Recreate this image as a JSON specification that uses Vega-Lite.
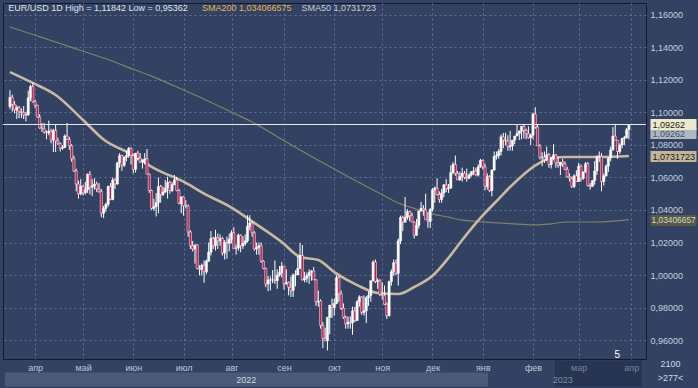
{
"$schema": "https://vega.github.io/schema/vega-lite/v6.json",
"width": 643, "height": 356,
"autosize": "none",
"padding": {"left": 3, "top": 3, "right": 52, "bottom": 29},
"background": "#334263",
"config": {"font": "Liberation Sans", "view": {"fill": "#334263", "stroke": "#121a2b", "strokeWidth": 1}},
"data": {"values": [
{"date":"2022-03-17","open":1.1037,"high":1.1137,"low":1.1020,"close":1.1093,"sma50":1.1249,"sma200":1.1526},
{"date":"2022-03-18","open":1.1093,"high":1.1110,"low":1.1005,"close":1.1050},
{"date":"2022-03-21","open":1.1050,"high":1.1070,"low":1.0995,"close":1.1015},
{"date":"2022-03-22","open":1.1015,"high":1.1045,"low":1.0960,"close":1.1030},
{"date":"2022-03-23","open":1.1030,"high":1.1040,"low":1.0965,"close":1.1005},
{"date":"2022-03-24","open":1.1005,"high":1.1025,"low":1.0965,"close":1.1000},
{"date":"2022-03-25","open":1.1000,"high":1.1040,"low":1.0960,"close":1.0985},
{"date":"2022-03-28","open":1.0985,"high":1.1005,"low":1.0945,"close":1.0985},
{"date":"2022-03-29","open":1.0985,"high":1.1135,"low":1.0980,"close":1.1090},
{"date":"2022-03-30","open":1.1090,"high":1.1170,"low":1.1070,"close":1.1160},
{"date":"2022-03-31","open":1.1160,"high":1.1184,"low":1.1060,"close":1.1067,"sma50":1.1182,"sma200":1.1480},
{"date":"2022-04-01","open":1.1067,"high":1.1077,"low":1.1028,"close":1.1045},
{"date":"2022-04-04","open":1.1045,"high":1.1047,"low":1.0968,"close":1.0972},
{"date":"2022-04-05","open":1.0972,"high":1.0990,"low":1.0900,"close":1.0905},
{"date":"2022-04-06","open":1.0905,"high":1.0935,"low":1.0880,"close":1.0900},
{"date":"2022-04-07","open":1.0900,"high":1.0935,"low":1.0870,"close":1.0880},
{"date":"2022-04-08","open":1.0880,"high":1.0890,"low":1.0835,"close":1.0875},
{"date":"2022-04-11","open":1.0875,"high":1.0950,"low":1.0860,"close":1.0885},
{"date":"2022-04-12","open":1.0885,"high":1.0900,"low":1.0810,"close":1.0830},
{"date":"2022-04-13","open":1.0830,"high":1.0900,"low":1.0757,"close":1.0890},
{"date":"2022-04-14","open":1.0890,"high":1.0925,"low":1.0757,"close":1.0825,"sma50":1.1108,"sma200":1.1434},
{"date":"2022-04-15","open":1.0825,"high":1.0845,"low":1.0800,"close":1.0810},
{"date":"2022-04-18","open":1.0810,"high":1.0815,"low":1.0760,"close":1.0780},
{"date":"2022-04-19","open":1.0780,"high":1.0800,"low":1.0770,"close":1.0785},
{"date":"2022-04-20","open":1.0785,"high":1.0865,"low":1.0780,"close":1.0855},
{"date":"2022-04-21","open":1.0855,"high":1.0936,"low":1.0830,"close":1.0835},
{"date":"2022-04-22","open":1.0835,"high":1.0850,"low":1.0770,"close":1.0795},
{"date":"2022-04-25","open":1.0795,"high":1.0805,"low":1.0697,"close":1.0715},
{"date":"2022-04-26","open":1.0715,"high":1.0735,"low":1.0635,"close":1.0640},
{"date":"2022-04-27","open":1.0640,"high":1.0655,"low":1.0515,"close":1.0560},
{"date":"2022-04-28","open":1.0560,"high":1.0580,"low":1.0470,"close":1.0500},
{"date":"2022-04-29","open":1.0500,"high":1.0590,"low":1.0490,"close":1.0545},
{"date":"2022-05-02","open":1.0545,"high":1.0555,"low":1.0490,"close":1.0505,"sma50":1.0954,"sma200":1.1377},
{"date":"2022-05-03","open":1.0505,"high":1.0575,"low":1.0495,"close":1.0525},
{"date":"2022-05-04","open":1.0525,"high":1.0625,"low":1.0505,"close":1.0620},
{"date":"2022-05-05","open":1.0620,"high":1.0640,"low":1.0495,"close":1.0540},
{"date":"2022-05-06","open":1.0540,"high":1.0590,"low":1.0485,"close":1.0550},
{"date":"2022-05-09","open":1.0550,"high":1.0595,"low":1.0525,"close":1.0560},
{"date":"2022-05-10","open":1.0560,"high":1.0575,"low":1.0510,"close":1.0530},
{"date":"2022-05-11","open":1.0530,"high":1.0565,"low":1.0505,"close":1.0515},
{"date":"2022-05-12","open":1.0515,"high":1.0530,"low":1.0355,"close":1.0380},
{"date":"2022-05-13","open":1.0380,"high":1.0425,"low":1.0350,"close":1.0410,"sma50":1.0834,"sma200":1.1335},
{"date":"2022-05-16","open":1.0410,"high":1.0445,"low":1.0390,"close":1.0435},
{"date":"2022-05-17","open":1.0435,"high":1.0550,"low":1.0420,"close":1.0545},
{"date":"2022-05-18","open":1.0545,"high":1.0565,"low":1.0460,"close":1.0465},
{"date":"2022-05-19","open":1.0465,"high":1.0600,"low":1.0460,"close":1.0585},
{"date":"2022-05-20","open":1.0585,"high":1.0595,"low":1.0530,"close":1.0560},
{"date":"2022-05-23","open":1.0560,"high":1.0695,"low":1.0555,"close":1.0690},
{"date":"2022-05-24","open":1.0690,"high":1.0750,"low":1.0660,"close":1.0735},
{"date":"2022-05-25","open":1.0735,"high":1.0740,"low":1.0640,"close":1.0675},
{"date":"2022-05-26","open":1.0675,"high":1.0730,"low":1.0665,"close":1.0725},
{"date":"2022-05-27","open":1.0725,"high":1.0765,"low":1.0700,"close":1.0735},
{"date":"2022-05-30","open":1.0735,"high":1.0787,"low":1.0720,"close":1.0780},
{"date":"2022-05-31","open":1.0780,"high":1.0785,"low":1.0680,"close":1.0735},
{"date":"2022-06-01","open":1.0735,"high":1.0740,"low":1.0625,"close":1.0650,"sma50":1.0738,"sma200":1.1266},
{"date":"2022-06-02","open":1.0650,"high":1.0750,"low":1.0630,"close":1.0750},
{"date":"2022-06-03","open":1.0750,"high":1.0765,"low":1.0705,"close":1.0720},
{"date":"2022-06-06","open":1.0720,"high":1.0750,"low":1.0690,"close":1.0695},
{"date":"2022-06-07","open":1.0695,"high":1.0710,"low":1.0655,"close":1.0705},
{"date":"2022-06-08","open":1.0705,"high":1.0750,"low":1.0680,"close":1.0715},
{"date":"2022-06-09","open":1.0715,"high":1.0775,"low":1.0625,"close":1.0620},
{"date":"2022-06-10","open":1.0620,"high":1.0625,"low":1.0505,"close":1.0520},
{"date":"2022-06-13","open":1.0520,"high":1.0525,"low":1.0400,"close":1.0410},
{"date":"2022-06-14","open":1.0410,"high":1.0470,"low":1.0395,"close":1.0420,"sma50":1.0658,"sma200":1.1218},
{"date":"2022-06-15","open":1.0420,"high":1.0505,"low":1.0360,"close":1.0445},
{"date":"2022-06-16","open":1.0445,"high":1.0600,"low":1.0380,"close":1.0545},
{"date":"2022-06-17","open":1.0545,"high":1.0555,"low":1.0445,"close":1.0495},
{"date":"2022-06-20","open":1.0495,"high":1.0545,"low":1.0485,"close":1.0510},
{"date":"2022-06-21","open":1.0510,"high":1.0585,"low":1.0505,"close":1.0535},
{"date":"2022-06-22","open":1.0535,"high":1.0605,"low":1.0470,"close":1.0570},
{"date":"2022-06-23","open":1.0570,"high":1.0580,"low":1.0500,"close":1.0520},
{"date":"2022-06-24","open":1.0520,"high":1.0570,"low":1.0510,"close":1.0555},
{"date":"2022-06-27","open":1.0555,"high":1.0615,"low":1.0555,"close":1.0585},
{"date":"2022-06-28","open":1.0585,"high":1.0605,"low":1.0515,"close":1.0520},
{"date":"2022-06-29","open":1.0520,"high":1.0530,"low":1.0435,"close":1.0440},
{"date":"2022-06-30","open":1.0440,"high":1.0485,"low":1.0380,"close":1.0480},
{"date":"2022-07-01","open":1.0480,"high":1.0485,"low":1.0365,"close":1.0425,"sma50":1.0574,"sma200":1.1138},
{"date":"2022-07-04","open":1.0425,"high":1.0460,"low":1.0410,"close":1.0425},
{"date":"2022-07-05","open":1.0425,"high":1.0435,"low":1.0235,"close":1.0265},
{"date":"2022-07-06","open":1.0265,"high":1.0275,"low":1.0160,"close":1.0180},
{"date":"2022-07-07","open":1.0180,"high":1.0210,"low":1.0145,"close":1.0160},
{"date":"2022-07-08","open":1.0160,"high":1.0185,"low":1.0070,"close":1.0185},
{"date":"2022-07-11","open":1.0185,"high":1.0190,"low":1.0035,"close":1.0040},
{"date":"2022-07-12","open":1.0040,"high":1.0060,"low":0.9998,"close":1.0035},
{"date":"2022-07-13","open":1.0035,"high":1.0070,"low":0.9998,"close":1.0060},
{"date":"2022-07-14","open":1.0060,"high":1.0090,"low":0.9952,"close":1.0020,"sma50":1.0501,"sma200":1.1082},
{"date":"2022-07-15","open":1.0020,"high":1.0095,"low":1.0005,"close":1.0085},
{"date":"2022-07-18","open":1.0085,"high":1.0200,"low":1.0080,"close":1.0140},
{"date":"2022-07-19","open":1.0140,"high":1.0270,"low":1.0120,"close":1.0225},
{"date":"2022-07-20","open":1.0225,"high":1.0235,"low":1.0160,"close":1.0180},
{"date":"2022-07-21","open":1.0180,"high":1.0278,"low":1.0150,"close":1.0230},
{"date":"2022-07-22","open":1.0230,"high":1.0255,"low":1.0160,"close":1.0210},
{"date":"2022-07-25","open":1.0210,"high":1.0250,"low":1.0180,"close":1.0225},
{"date":"2022-07-26","open":1.0225,"high":1.0235,"low":1.0120,"close":1.0135},
{"date":"2022-07-27","open":1.0135,"high":1.0215,"low":1.0095,"close":1.0200},
{"date":"2022-07-28","open":1.0200,"high":1.0235,"low":1.0100,"close":1.0195},
{"date":"2022-07-29","open":1.0195,"high":1.0255,"low":1.0145,"close":1.0220},
{"date":"2022-08-01","open":1.0220,"high":1.0275,"low":1.0195,"close":1.0260,"sma50":1.0415,"sma200":1.1002},
{"date":"2022-08-02","open":1.0260,"high":1.0295,"low":1.0160,"close":1.0165},
{"date":"2022-08-03","open":1.0165,"high":1.0185,"low":1.0125,"close":1.0165},
{"date":"2022-08-04","open":1.0165,"high":1.0255,"low":1.0150,"close":1.0245},
{"date":"2022-08-05","open":1.0245,"high":1.0250,"low":1.0140,"close":1.0180},
{"date":"2022-08-08","open":1.0180,"high":1.0240,"low":1.0160,"close":1.0195},
{"date":"2022-08-09","open":1.0195,"high":1.0250,"low":1.0180,"close":1.0210},
{"date":"2022-08-10","open":1.0210,"high":1.0368,"low":1.0200,"close":1.0300},
{"date":"2022-08-11","open":1.0300,"high":1.0368,"low":1.0275,"close":1.0320},
{"date":"2022-08-12","open":1.0320,"high":1.0330,"low":1.0235,"close":1.0260,"sma50":1.0330,"sma200":1.0942},
{"date":"2022-08-15","open":1.0260,"high":1.0270,"low":1.0150,"close":1.0160},
{"date":"2022-08-16","open":1.0160,"high":1.0200,"low":1.0125,"close":1.0170},
{"date":"2022-08-17","open":1.0170,"high":1.0200,"low":1.0125,"close":1.0180},
{"date":"2022-08-18","open":1.0180,"high":1.0200,"low":1.0075,"close":1.0085},
{"date":"2022-08-19","open":1.0085,"high":1.0090,"low":1.0035,"close":1.0040},
{"date":"2022-08-22","open":1.0040,"high":1.0045,"low":0.9925,"close":0.9945},
{"date":"2022-08-23","open":0.9945,"high":0.9995,"low":0.9900,"close":0.9970},
{"date":"2022-08-24","open":0.9970,"high":0.9990,"low":0.9905,"close":0.9970},
{"date":"2022-08-25","open":0.9970,"high":1.0030,"low":0.9950,"close":0.9970},
{"date":"2022-08-26","open":0.9970,"high":1.0090,"low":0.9945,"close":0.9965},
{"date":"2022-08-29","open":0.9965,"high":1.0035,"low":0.9915,"close":1.0000},
{"date":"2022-08-30","open":1.0000,"high":1.0055,"low":0.9990,"close":1.0015},
{"date":"2022-08-31","open":1.0015,"high":1.0080,"low":0.9985,"close":1.0055,"sma50":1.0203,"sma200":1.0835},
{"date":"2022-09-01","open":1.0055,"high":1.0055,"low":0.9910,"close":0.9945},
{"date":"2022-09-02","open":0.9945,"high":1.0035,"low":0.9940,"close":0.9955},
{"date":"2022-09-05","open":0.9955,"high":0.9960,"low":0.9875,"close":0.9925},
{"date":"2022-09-06","open":0.9925,"high":0.9990,"low":0.9865,"close":0.9905},
{"date":"2022-09-07","open":0.9905,"high":1.0010,"low":0.9865,"close":1.0000},
{"date":"2022-09-08","open":1.0000,"high":1.0030,"low":0.9930,"close":1.0000},
{"date":"2022-09-09","open":1.0000,"high":1.0115,"low":1.0000,"close":1.0040},
{"date":"2022-09-12","open":1.0040,"high":1.0198,"low":1.0040,"close":1.0120,"sma50":1.0111,"sma200":1.0769},
{"date":"2022-09-13","open":1.0120,"high":1.0185,"low":0.9966,"close":0.9970},
{"date":"2022-09-14","open":0.9970,"high":1.0020,"low":0.9955,"close":0.9980},
{"date":"2022-09-15","open":0.9980,"high":1.0015,"low":0.9955,"close":0.9995},
{"date":"2022-09-16","open":0.9995,"high":1.0035,"low":0.9945,"close":1.0015},
{"date":"2022-09-19","open":1.0015,"high":1.0030,"low":0.9965,"close":1.0025},
{"date":"2022-09-20","open":1.0025,"high":1.0050,"low":0.9970,"close":0.9970},
{"date":"2022-09-21","open":0.9970,"high":0.9975,"low":0.9810,"close":0.9835},
{"date":"2022-09-22","open":0.9835,"high":0.9905,"low":0.9805,"close":0.9840,"sma50":1.0092,"sma200":1.0706},
{"date":"2022-09-23","open":0.9840,"high":0.9850,"low":0.9670,"close":0.9690},
{"date":"2022-09-26","open":0.9690,"high":0.9710,"low":0.9550,"close":0.9610},
{"date":"2022-09-27","open":0.9610,"high":0.9675,"low":0.9595,"close":0.9595},
{"date":"2022-09-28","open":0.9595,"high":0.9740,"low":0.9536,"close":0.9740},
{"date":"2022-09-29","open":0.9740,"high":0.9815,"low":0.9635,"close":0.9815},
{"date":"2022-09-30","open":0.9815,"high":0.9855,"low":0.9735,"close":0.9800},
{"date":"2022-10-03","open":0.9800,"high":0.9855,"low":0.9750,"close":0.9825,"sma50":1.0018,"sma200":1.0652},
{"date":"2022-10-04","open":0.9825,"high":0.9999,"low":0.9820,"close":0.9985},
{"date":"2022-10-05","open":0.9985,"high":0.9995,"low":0.9835,"close":0.9885},
{"date":"2022-10-06","open":0.9885,"high":0.9905,"low":0.9785,"close":0.9795},
{"date":"2022-10-07","open":0.9795,"high":0.9825,"low":0.9730,"close":0.9740},
{"date":"2022-10-10","open":0.9740,"high":0.9750,"low":0.9670,"close":0.9700},
{"date":"2022-10-11","open":0.9700,"high":0.9745,"low":0.9670,"close":0.9710},
{"date":"2022-10-12","open":0.9710,"high":0.9745,"low":0.9670,"close":0.9705},
{"date":"2022-10-13","open":0.9705,"high":0.9805,"low":0.9632,"close":0.9780},
{"date":"2022-10-14","open":0.9780,"high":0.9805,"low":0.9710,"close":0.9720},
{"date":"2022-10-17","open":0.9720,"high":0.9845,"low":0.9720,"close":0.9835,"sma50":0.9938,"sma200":1.0575},
{"date":"2022-10-18","open":0.9835,"high":0.9875,"low":0.9805,"close":0.9865},
{"date":"2022-10-19","open":0.9865,"high":0.9870,"low":0.9755,"close":0.9770},
{"date":"2022-10-20","open":0.9770,"high":0.9875,"low":0.9750,"close":0.9780},
{"date":"2022-10-21","open":0.9780,"high":0.9870,"low":0.9705,"close":0.9860},
{"date":"2022-10-24","open":0.9860,"high":0.9900,"low":0.9810,"close":0.9875},
{"date":"2022-10-25","open":0.9875,"high":0.9965,"low":0.9835,"close":0.9965},
{"date":"2022-10-26","open":0.9965,"high":1.0090,"low":0.9960,"close":1.0080},
{"date":"2022-10-27","open":1.0080,"high":1.0095,"low":0.9950,"close":0.9960},
{"date":"2022-10-28","open":0.9960,"high":0.9980,"low":0.9915,"close":0.9965,"sma50":0.9889,"sma200":1.0509},
{"date":"2022-10-31","open":0.9965,"high":0.9975,"low":0.9870,"close":0.9880},
{"date":"2022-11-01","open":0.9880,"high":0.9955,"low":0.9850,"close":0.9875},
{"date":"2022-11-02","open":0.9875,"high":0.9935,"low":0.9815,"close":0.9820},
{"date":"2022-11-03","open":0.9820,"high":0.9830,"low":0.9730,"close":0.9750},
{"date":"2022-11-04","open":0.9750,"high":0.9965,"low":0.9745,"close":0.9960},
{"date":"2022-11-07","open":0.9960,"high":1.0035,"low":0.9935,"close":1.0020},
{"date":"2022-11-08","open":1.0020,"high":1.0095,"low":0.9995,"close":1.0075},
{"date":"2022-11-09","open":1.0075,"high":1.0095,"low":1.0000,"close":1.0010},
{"date":"2022-11-10","open":1.0010,"high":1.0225,"low":0.9935,"close":1.0210,"sma50":0.9883,"sma200":1.0443},
{"date":"2022-11-11","open":1.0210,"high":1.0365,"low":1.0190,"close":1.0355},
{"date":"2022-11-14","open":1.0355,"high":1.0365,"low":1.0270,"close":1.0325},
{"date":"2022-11-15","open":1.0325,"high":1.0480,"low":1.0325,"close":1.0355},
{"date":"2022-11-16","open":1.0355,"high":1.0405,"low":1.0340,"close":1.0390},
{"date":"2022-11-17","open":1.0390,"high":1.0395,"low":1.0330,"close":1.0365},
{"date":"2022-11-18","open":1.0365,"high":1.0385,"low":1.0325,"close":1.0325},
{"date":"2022-11-21","open":1.0325,"high":1.0330,"low":1.0225,"close":1.0245,"sma50":0.9926,"sma200":1.0410},
{"date":"2022-11-22","open":1.0245,"high":1.0345,"low":1.0240,"close":1.0305},
{"date":"2022-11-23","open":1.0305,"high":1.0395,"low":1.0285,"close":1.0395},
{"date":"2022-11-24","open":1.0395,"high":1.0450,"low":1.0390,"close":1.0410},
{"date":"2022-11-25","open":1.0410,"high":1.0430,"low":1.0365,"close":1.0400},
{"date":"2022-11-28","open":1.0400,"high":1.0500,"low":1.0345,"close":1.0340},
{"date":"2022-11-29","open":1.0340,"high":1.0385,"low":1.0290,"close":1.0330},
{"date":"2022-11-30","open":1.0330,"high":1.0410,"low":1.0290,"close":1.0405},
{"date":"2022-12-01","open":1.0405,"high":1.0535,"low":1.0390,"close":1.0525,"sma50":0.9995,"sma200":1.0376},
{"date":"2022-12-02","open":1.0525,"high":1.0545,"low":1.0445,"close":1.0535},
{"date":"2022-12-05","open":1.0535,"high":1.0595,"low":1.0490,"close":1.0495},
{"date":"2022-12-06","open":1.0495,"high":1.0515,"low":1.0445,"close":1.0465},
{"date":"2022-12-07","open":1.0465,"high":1.0530,"low":1.0445,"close":1.0505},
{"date":"2022-12-08","open":1.0505,"high":1.0560,"low":1.0480,"close":1.0555},
{"date":"2022-12-09","open":1.0555,"high":1.0590,"low":1.0510,"close":1.0530},
{"date":"2022-12-12","open":1.0530,"high":1.0560,"low":1.0505,"close":1.0535,"sma50":1.0105,"sma200":1.0356},
{"date":"2022-12-13","open":1.0535,"high":1.0675,"low":1.0530,"close":1.0630},
{"date":"2022-12-14","open":1.0630,"high":1.0695,"low":1.0620,"close":1.0680},
{"date":"2022-12-15","open":1.0680,"high":1.0735,"low":1.0610,"close":1.0625},
{"date":"2022-12-16","open":1.0625,"high":1.0640,"low":1.0585,"close":1.0585},
{"date":"2022-12-19","open":1.0585,"high":1.0635,"low":1.0580,"close":1.0605},
{"date":"2022-12-20","open":1.0605,"high":1.0660,"low":1.0575,"close":1.0625,"sma50":1.0215,"sma200":1.0338},
{"date":"2022-12-21","open":1.0625,"high":1.0640,"low":1.0590,"close":1.0600},
{"date":"2022-12-22","open":1.0600,"high":1.0655,"low":1.0575,"close":1.0595},
{"date":"2022-12-23","open":1.0595,"high":1.0625,"low":1.0590,"close":1.0615},
{"date":"2022-12-26","open":1.0615,"high":1.0640,"low":1.0605,"close":1.0635},
{"date":"2022-12-27","open":1.0635,"high":1.0665,"low":1.0615,"close":1.0640},
{"date":"2022-12-28","open":1.0640,"high":1.0660,"low":1.0610,"close":1.0615},
{"date":"2022-12-29","open":1.0615,"high":1.0680,"low":1.0605,"close":1.0665},
{"date":"2022-12-30","open":1.0665,"high":1.0715,"low":1.0660,"close":1.0705,"sma50":1.0351,"sma200":1.0329},
{"date":"2023-01-02","open":1.0705,"high":1.0710,"low":1.0650,"close":1.0665},
{"date":"2023-01-03","open":1.0665,"high":1.0685,"low":1.0520,"close":1.0545},
{"date":"2023-01-04","open":1.0545,"high":1.0625,"low":1.0525,"close":1.0605},
{"date":"2023-01-05","open":1.0605,"high":1.0615,"low":1.0510,"close":1.0520},
{"date":"2023-01-06","open":1.0520,"high":1.0650,"low":1.0484,"close":1.0645},
{"date":"2023-01-09","open":1.0645,"high":1.0760,"low":1.0645,"close":1.0730},
{"date":"2023-01-10","open":1.0730,"high":1.0760,"low":1.0710,"close":1.0735},
{"date":"2023-01-11","open":1.0735,"high":1.0775,"low":1.0715,"close":1.0760,"sma50":1.0469,"sma200":1.0320},
{"date":"2023-01-12","open":1.0760,"high":1.0865,"low":1.0735,"close":1.0850},
{"date":"2023-01-13","open":1.0850,"high":1.0875,"low":1.0780,"close":1.0830},
{"date":"2023-01-16","open":1.0830,"high":1.0875,"low":1.0800,"close":1.0825},
{"date":"2023-01-17","open":1.0825,"high":1.0860,"low":1.0765,"close":1.0790},
{"date":"2023-01-18","open":1.0790,"high":1.0887,"low":1.0765,"close":1.0795,"sma50":1.0542,"sma200":1.0316},
{"date":"2023-01-19","open":1.0795,"high":1.0830,"low":1.0765,"close":1.0830},
{"date":"2023-01-20","open":1.0830,"high":1.0855,"low":1.0805,"close":1.0855},
{"date":"2023-01-23","open":1.0855,"high":1.0925,"low":1.0855,"close":1.0870},
{"date":"2023-01-24","open":1.0870,"high":1.0890,"low":1.0830,"close":1.0885},
{"date":"2023-01-25","open":1.0885,"high":1.0915,"low":1.0835,"close":1.0915},
{"date":"2023-01-26","open":1.0915,"high":1.0930,"low":1.0840,"close":1.0890},
{"date":"2023-01-27","open":1.0890,"high":1.0900,"low":1.0835,"close":1.0870},
{"date":"2023-01-30","open":1.0870,"high":1.0915,"low":1.0840,"close":1.0845},
{"date":"2023-01-31","open":1.0845,"high":1.0870,"low":1.0800,"close":1.0860},
{"date":"2023-02-01","open":1.0860,"high":1.1000,"low":1.0835,"close":1.0990},
{"date":"2023-02-02","open":1.0990,"high":1.1033,"low":1.0900,"close":1.0910},
{"date":"2023-02-03","open":1.0910,"high":1.0925,"low":1.0795,"close":1.0795,"sma50":1.0683,"sma200":1.0308},
{"date":"2023-02-06","open":1.0795,"high":1.0805,"low":1.0710,"close":1.0725},
{"date":"2023-02-07","open":1.0725,"high":1.0755,"low":1.0670,"close":1.0725},
{"date":"2023-02-08","open":1.0725,"high":1.0760,"low":1.0690,"close":1.0710},
{"date":"2023-02-09","open":1.0710,"high":1.0790,"low":1.0700,"close":1.0740},
{"date":"2023-02-10","open":1.0740,"high":1.0750,"low":1.0660,"close":1.0680},
{"date":"2023-02-13","open":1.0680,"high":1.0725,"low":1.0655,"close":1.0720,"sma50":1.0720,"sma200":1.0315},
{"date":"2023-02-14","open":1.0720,"high":1.0805,"low":1.0705,"close":1.0740},
{"date":"2023-02-15","open":1.0740,"high":1.0745,"low":1.0660,"close":1.0690},
{"date":"2023-02-16","open":1.0690,"high":1.0725,"low":1.0660,"close":1.0675},
{"date":"2023-02-17","open":1.0675,"high":1.0695,"low":1.0615,"close":1.0695},
{"date":"2023-02-20","open":1.0695,"high":1.0715,"low":1.0665,"close":1.0685},
{"date":"2023-02-21","open":1.0685,"high":1.0700,"low":1.0645,"close":1.0650},
{"date":"2023-02-22","open":1.0650,"high":1.0665,"low":1.0600,"close":1.0605,"sma50":1.0726,"sma200":1.0326},
{"date":"2023-02-23","open":1.0605,"high":1.0625,"low":1.0575,"close":1.0595},
{"date":"2023-02-24","open":1.0595,"high":1.0605,"low":1.0535,"close":1.0545},
{"date":"2023-02-27","open":1.0545,"high":1.0620,"low":1.0535,"close":1.0610},
{"date":"2023-02-28","open":1.0610,"high":1.0645,"low":1.0575,"close":1.0575},
{"date":"2023-03-01","open":1.0575,"high":1.0690,"low":1.0575,"close":1.0670},
{"date":"2023-03-02","open":1.0670,"high":1.0680,"low":1.0575,"close":1.0595},
{"date":"2023-03-03","open":1.0595,"high":1.0635,"low":1.0585,"close":1.0635},
{"date":"2023-03-06","open":1.0635,"high":1.0695,"low":1.0630,"close":1.0685},
{"date":"2023-03-07","open":1.0685,"high":1.0695,"low":1.0545,"close":1.0550},
{"date":"2023-03-08","open":1.0550,"high":1.0565,"low":1.0525,"close":1.0545},
{"date":"2023-03-09","open":1.0545,"high":1.0585,"low":1.0545,"close":1.0580},
{"date":"2023-03-10","open":1.0580,"high":1.0700,"low":1.0555,"close":1.0640},
{"date":"2023-03-13","open":1.0640,"high":1.0735,"low":1.0615,"close":1.0730,"sma50":1.0726,"sma200":1.0326},
{"date":"2023-03-14","open":1.0730,"high":1.0760,"low":1.0695,"close":1.0730},
{"date":"2023-03-15","open":1.0730,"high":1.0750,"low":1.0515,"close":1.0575},
{"date":"2023-03-16","open":1.0575,"high":1.0625,"low":1.0550,"close":1.0610},
{"date":"2023-03-17","open":1.0610,"high":1.0680,"low":1.0605,"close":1.0670},
{"date":"2023-03-20","open":1.0670,"high":1.0725,"low":1.0635,"close":1.0720},
{"date":"2023-03-21","open":1.0720,"high":1.0790,"low":1.0700,"close":1.0770},
{"date":"2023-03-22","open":1.0770,"high":1.0910,"low":1.0765,"close":1.0855},
{"date":"2023-03-23","open":1.0855,"high":1.0930,"low":1.0830,"close":1.0830},
{"date":"2023-03-24","open":1.0830,"high":1.0830,"low":1.0715,"close":1.0760},
{"date":"2023-03-27","open":1.0760,"high":1.0810,"low":1.0745,"close":1.0800},
{"date":"2023-03-28","open":1.0800,"high":1.0845,"low":1.0780,"close":1.0840},
{"date":"2023-03-29","open":1.0840,"high":1.0855,"low":1.0800,"close":1.0845},
{"date":"2023-03-30","open":1.0845,"high":1.0905,"low":1.0840,"close":1.0895},
{"date":"2023-03-31","open":1.0895,"high":1.0928,"low":1.0835,"close":1.0926,"sma50":1.0732,"sma200":1.0341}
]},
"transform": [{"window": [{"op": "row_number", "as": "n"}], "sort": [{"field": "date", "order": "ascending"}]}],
"layer": [
{
 "transform": [{"filter": "isValid(datum.sma200)"}],
 "mark": {"type": "line", "color": "#82806a", "strokeWidth": 1.2, "interpolate": "monotone"},
 "encoding": {
  "x": {"field": "n", "type": "quantitative", "scale": {"domain": [0.138, 277.29], "nice": false, "zero": false},
   "axis": {"orient": "bottom", "values": [258.5], "offset": 1, "labels": false, "grid": false, "domain": false, "ticks": true, "tickSize": 26, "tickWidth": 87, "tickColor": "#283552", "title": null}},
  "y": {"field": "sma200", "type": "quantitative", "scale": {"domain": [0.94831, 1.16738], "nice": false, "zero": false},
   "axis": {"orient": "right", "values": [0.96, 0.98, 1, 1.02, 1.04, 1.06, 1.08, 1.1, 1.12, 1.14, 1.16], "ticks": false, "domain": false, "grid": true, "gridColor": "#61719a", "gridDash": [2, 3], "gridWidth": 1,
    "labelExpr": "replace(format(datum.value, '.5f'), '.', ',')", "labelAlign": "left", "labelBaseline": "middle", "labelPadding": 4, "labelFontSize": 9, "labelColor": "#c6cedb", "labelOverlap": false, "labelFlush": false, "labelBound": false,
    "title": ["2100", ">277<"], "titleAngle": 0, "titleAlign": "center", "titleBaseline": "top", "titleX": 24, "titleY": 356, "titleFontSize": 9, "titleFontWeight": "normal", "titleColor": "#d2d9e4", "titleLineHeight": 14}}
 }
},
{
 "transform": [{"filter": "isValid(datum.sma50)"}],
 "mark": {"type": "line", "color": "#c9b9a0", "strokeWidth": 2.6, "interpolate": "monotone"},
 "encoding": {
  "x": {"field": "n", "type": "quantitative", "scale": {"domain": [0.138, 277.29], "nice": false, "zero": false}, "axis": null},
  "y": {"field": "sma50", "type": "quantitative", "scale": {"domain": [0.94831, 1.16738], "nice": false, "zero": false},
   "axis": {"orient": "right", "values": [1.0731723], "offset": 4, "grid": false, "domain": false, "ticks": true, "tickSize": 46, "tickWidth": 11, "tickColor": "#c4b49a",
    "labelExpr": "'1,0731723'", "labelAlign": "left", "labelBaseline": "middle", "labelPadding": -44, "labelFontSize": 9, "labelColor": "#1c1c1c", "labelOverlap": false, "labelFlush": false, "labelBound": false, "title": null}}
 }
},
{
 "mark": {"type": "rule", "color": "#ffffff", "strokeWidth": 1},
 "encoding": {
  "x": {"field": "n", "type": "quantitative", "scale": {"domain": [0.138, 277.29], "nice": false, "zero": false},
   "axis": {"orient": "bottom", "values": [12, 33, 55, 77, 98, 121, 143, 164, 186, 208, 230, 250, 273],
    "labelExpr": "['апр','май','июн','июл','авг','сен','окт','ноя','дек','янв','фев','мар','апр'][indexof([12,33,55,77,98,121,143,164,186,208,230,250,273], datum.value)]",
    "ticks": false, "domain": false, "grid": true, "gridColor": "#61719a", "gridDash": [2, 3], "gridWidth": 1,
    "labelBaseline": "middle", "labelPadding": 8.7, "labelFontSize": 9,
    "labelColor": {"condition": {"test": "datum.value > 245", "value": "#76849f"}, "value": "#bcc6d6"},
    "labelOverlap": false, "labelFlush": false, "labelBound": false, "title": null}},
  "y": {"field": "low", "type": "quantitative", "scale": {"domain": [0.94831, 1.16738], "nice": false, "zero": false},
   "axis": {"orient": "right", "values": [1.034066575], "offset": 4, "grid": false, "domain": false, "ticks": true, "tickSize": 46, "tickWidth": 11, "tickColor": "#555a48",
    "labelExpr": "'1,03406657'", "labelAlign": "left", "labelBaseline": "middle", "labelPadding": -45, "labelFontSize": 8.4, "labelColor": "#d6d8c6", "labelOverlap": false, "labelFlush": false, "labelBound": false, "title": null}},
  "y2": {"field": "high"}
 }
},
{
 "mark": {"type": "bar", "width": 2.2, "stroke": "#ffffff", "strokeWidth": 0.5},
 "encoding": {
  "x": {"field": "n", "type": "quantitative", "scale": {"domain": [0.138, 277.29], "nice": false, "zero": false},
   "axis": {"orient": "bottom", "values": [104.23, 242.8], "offset": 13, "grid": false, "domain": false, "ticks": true, "tickSize": 14, "tickWidth": 483, "tickColor": "#4b5a79",
    "tickOpacity": {"condition": {"test": "datum.value < 150", "value": 1}, "value": 0},
    "labelExpr": "datum.value < 150 ? '2022' : '2023'", "labelBaseline": "middle", "labelPadding": -7, "labelFontSize": 9,
    "labelColor": {"condition": {"test": "datum.value < 150", "value": "#ccd4e0"}, "value": "#7d8aa4"},
    "labelOverlap": false, "labelFlush": false, "labelBound": false, "title": null}},
  "y": {"field": "open", "type": "quantitative", "scale": {"domain": [0.94831, 1.16738], "nice": false, "zero": false}, "axis": null},
  "y2": {"field": "close"},
  "fill": {"condition": {"test": "datum.close < datum.open", "value": "#c8174a"}, "value": "#ffffff"}
 }
},
{
 "data": {"values": [{"price": 1.09262}]},
 "mark": {"type": "rule", "color": "#e4e8ee", "strokeWidth": 1},
 "encoding": {
  "y": {"field": "price", "type": "quantitative", "scale": {"domain": [0.94831, 1.16738], "nice": false, "zero": false},
   "axis": {"orient": "right", "values": [1.08738, 1.09262], "offset": 4, "grid": false, "domain": false, "ticks": true, "tickSize": 46, "tickWidth": 11,
    "tickColor": {"condition": {"test": "datum.value < 1.09", "value": "#aeb7c4"}, "value": "#ece9cd"},
    "labelExpr": "'1,09262'", "labelAlign": "left", "labelBaseline": "middle", "labelPadding": -44, "labelFontSize": 9,
    "labelColor": {"condition": {"test": "datum.value < 1.09", "value": "#4a5262"}, "value": "#1c1c1c"},
    "labelOverlap": false, "labelFlush": false, "labelBound": false, "title": null}}
 }
},
{
 "data": {"values": [{"label": "EUR/USD 1D High = 1,11842 Low = 0,95362"}]},
 "mark": {"type": "text", "align": "left", "baseline": "middle", "fontSize": 9, "color": "#dfe3ea"},
 "encoding": {
  "x": {"datum": 0.27, "type": "quantitative", "scale": {"domain": [0.138, 277.29], "nice": false, "zero": false}, "axis": null},
  "y": {"datum": 1.16431, "type": "quantitative", "scale": {"domain": [0.94831, 1.16738], "nice": false, "zero": false}, "axis": null},
  "text": {"field": "label"}
 }
},
{
 "data": {"values": [{"label": "SMA200 1,034066575"}]},
 "mark": {"type": "text", "align": "left", "baseline": "middle", "fontSize": 9, "color": "#e6b44a"},
 "encoding": {
  "x": {"datum": 85.05, "type": "quantitative", "scale": {"domain": [0.138, 277.29], "nice": false, "zero": false}, "axis": null},
  "y": {"datum": 1.16431, "type": "quantitative", "scale": {"domain": [0.94831, 1.16738], "nice": false, "zero": false}, "axis": null},
  "text": {"field": "label"}
 }
},
{
 "data": {"values": [{"label": "SMA50 1,0731723"}]},
 "mark": {"type": "text", "align": "left", "baseline": "middle", "fontSize": 9, "color": "#c8ccd2"},
 "encoding": {
  "x": {"datum": 128.6, "type": "quantitative", "scale": {"domain": [0.138, 277.29], "nice": false, "zero": false}, "axis": null},
  "y": {"datum": 1.16431, "type": "quantitative", "scale": {"domain": [0.94831, 1.16738], "nice": false, "zero": false}, "axis": null},
  "text": {"field": "label"}
 }
},
{
 "data": {"values": [{"label": "5"}]},
 "mark": {"type": "text", "align": "center", "baseline": "middle", "fontSize": 10, "color": "#ffffff"},
 "encoding": {
  "x": {"datum": 266.9, "type": "quantitative", "scale": {"domain": [0.138, 277.29], "nice": false, "zero": false}, "axis": null},
  "y": {"datum": 0.95077, "type": "quantitative", "scale": {"domain": [0.94831, 1.16738], "nice": false, "zero": false}, "axis": null},
  "text": {"field": "label"}
 }
}
],
"resolve": {"axis": {"x": "independent", "y": "independent"}}
}
